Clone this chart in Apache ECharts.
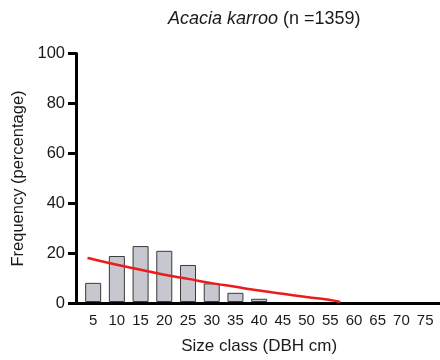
<!DOCTYPE html>
<html>
<head>
<meta charset="utf-8">
<script src="https://cdn.jsdelivr.net/npm/echarts@6/dist/echarts.min.js"></script>
<style>html,body{margin:0;padding:0;background:#fff;}#c{width:440px;height:360px;}</style>
</head>
<body>
<div id="c"></div>
<script>
// Size classes (DBH cm) and frequency (%)
var sizeClasses = [5, 10, 15, 20, 25, 30, 35, 40, 45, 50, 55, 60, 65, 70, 75];
var frequency = [7.7, 18.5, 22.5, 20.6, 14.9, 7.5, 3.7, 1.3, 0, 0, 0, 0, 0, 0, 0];
// Fitted (red) curve
var curveX = [3.8, 5, 10, 15, 20, 25, 30, 35, 40, 45, 50, 55, 57.1];
var curveY = [17.7, 17.2, 15.0, 13.0, 11.0, 9.3, 7.6, 6.1, 4.6, 3.3, 2.0, 0.8, 0];
var yTicks = [0, 20, 40, 60, 80, 100];
var titleSpecies = 'Acacia karroo';
var titleN = ' (n =1359)';

var FONT = '"Liberation Sans", Arial, sans-serif';
var chart = echarts.init(document.getElementById('c'), null, {renderer: 'canvas'});
// zero-frequency classes have no visible bar
var barData = sizeClasses.map(function (x, i) { return [x, frequency[i] > 0 ? frequency[i] : '-']; });
var curveData = curveX.map(function (x, i) { return [x, curveY[i]]; });

chart.setOption({
  animation: false,
  backgroundColor: '#ffffff',
  title: {
    text: '{i|' + titleSpecies + '}{n|' + titleN + '}',
    left: 163, top: 5,
    textStyle: {
      fontWeight: 'normal',
      rich: {
        i: {fontFamily: FONT, fontSize: 18, fontStyle: 'italic', fontWeight: 'normal', color: '#1a1a1a'},
        n: {fontFamily: FONT, fontSize: 18, fontWeight: 'normal', color: '#1a1a1a'}
      }
    }
  },
  grid: [
    {left: 76, right: 0, top: 53.5, bottom: 56.5},
    {left: 81.3, right: -1.3, top: 53.5, bottom: 56.5}
  ],
  xAxis: [
    {
      gridIndex: 0, type: 'value', min: 0, max: 1, z: 10,
      axisLine: {show: true, lineStyle: {color: '#000', width: 3}},
      axisTick: {show: false}, axisLabel: {show: false}, splitLine: {show: false}
    },
    {
      gridIndex: 1, type: 'value', min: 2.5, max: 77.5, interval: 2.5,
      axisLine: {show: false}, axisTick: {show: false}, splitLine: {show: false},
      axisLabel: {
        margin: 11, fontFamily: FONT, fontSize: 15, color: '#1a1a1a',
        formatter: function (v) { return sizeClasses.indexOf(v) >= 0 ? String(v) : ''; }
      },
      name: 'Size class (DBH cm)', nameLocation: 'middle', nameGap: 36,
      nameTextStyle: {fontFamily: FONT, fontSize: 17, color: '#1a1a1a'}
    }
  ],
  yAxis: [
    {
      gridIndex: 0, type: 'value', min: yTicks[0], max: yTicks[yTicks.length - 1], interval: 20, z: 10,
      axisLine: {show: true, lineStyle: {color: '#000', width: 3}},
      axisTick: {show: true, length: 8, lineStyle: {color: '#000', width: 3}},
      axisLabel: {margin: 11, fontFamily: FONT, fontSize: 16.5, color: '#1a1a1a'},
      splitLine: {show: false},
      name: 'Frequency (percentage)', nameLocation: 'middle', nameGap: 46,
      nameTextStyle: {fontFamily: FONT, fontSize: 16.5, color: '#1a1a1a'}
    },
    {
      gridIndex: 1, type: 'value', min: 0, max: 100, show: false
    }
  ],
  series: [
    {
      type: 'bar', xAxisIndex: 1, yAxisIndex: 1, data: barData, barWidth: 16, z: 2,
      itemStyle: {color: '#c7c7d0', borderColor: '#3a3a3a', borderWidth: 1}
    },
    {
      type: 'line', xAxisIndex: 1, yAxisIndex: 1, data: curveData, smooth: true,
      symbol: 'none', lineStyle: {color: '#ec1c1c', width: 2.5}, z: 12
    }
  ]
});
</script>
</body>
</html>
